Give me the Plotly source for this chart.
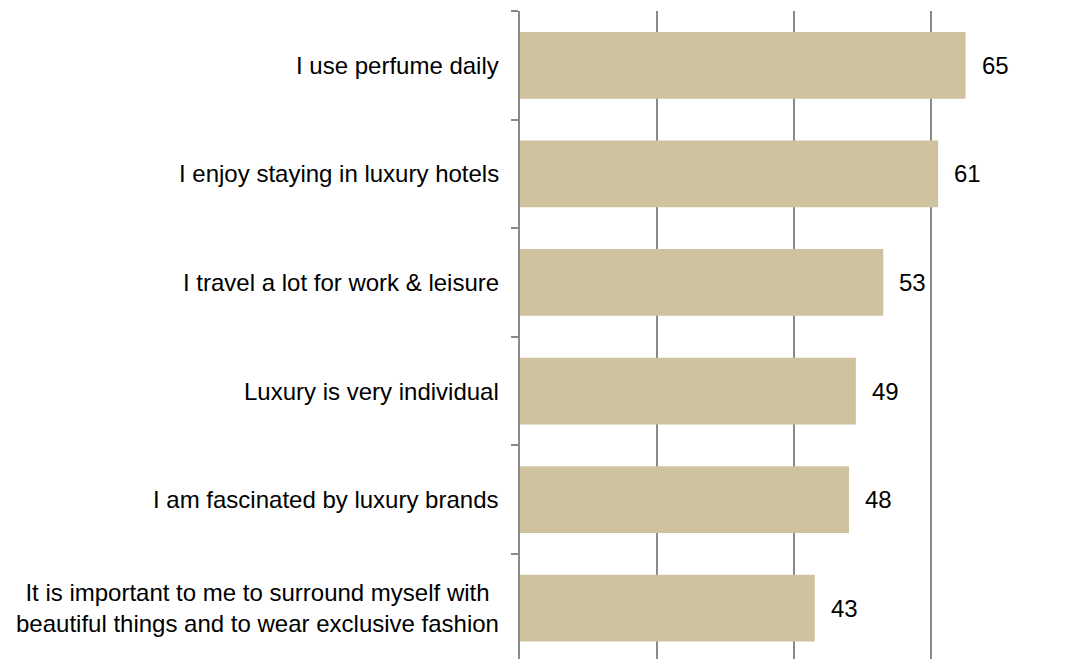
import plotly.graph_objects as go

# Survey statements and agreement scores (%)
statements = [
    "I use perfume daily",
    "I enjoy staying in luxury hotels",
    "I travel a lot for work & leisure",
    "Luxury is very individual",
    "I am fascinated by luxury brands",
    "It is important to me to surround myself with<br>beautiful things and to wear exclusive fashion",
]
scores = [65, 61, 53, 49, 48, 43]

BAR_COLOR = "#CFC29E"
LINE_COLOR = "#8A8A8A"
FONT = "Arial, Liberation Sans, sans-serif"

fig = go.Figure(
    go.Bar(
        x=scores,
        y=statements,
        orientation="h",
        marker=dict(color=BAR_COLOR, line=dict(width=0)),
        width=0.615,
        hoverinfo="skip",
    )
)

# Value labels just past each bar end
for i, v in enumerate(scores):
    fig.add_annotation(
        x=v, y=i, xref="x", yref="y",
        text=str(v), showarrow=False,
        xanchor="left", yanchor="middle", xshift=14,
        font=dict(family=FONT, size=24, color="#000000"),
    )

# Statement labels to the left of the axis, lines centred on each other
for i, s in enumerate(statements):
    fig.add_annotation(
        x=0, y=i, xref="paper", yref="y",
        text=s, showarrow=False,
        xanchor="right", yanchor="middle", xshift=-19,
        align="center",
        font=dict(family=FONT, size=24, color="#000000"),
    )

fig.update_layout(
    width=1066,
    height=659,
    margin=dict(l=520, r=0, t=11, b=0),
    paper_bgcolor="white",
    plot_bgcolor="white",
    showlegend=False,
    font=dict(family=FONT, size=24, color="#000000"),
)

fig.update_xaxes(
    range=[0, 79.65],
    tickvals=[0, 20, 40, 60, 80],
    showticklabels=False,
    showgrid=True,
    gridcolor=LINE_COLOR,
    gridwidth=1.5,
    zeroline=False,
    showline=False,
    ticks="",
)

fig.update_yaxes(
    type="category",
    categoryorder="array",
    categoryarray=statements,
    range=[5.468, -0.5],
    showticklabels=False,
    showgrid=False,
    zeroline=False,
    showline=True,
    linecolor=LINE_COLOR,
    linewidth=1.5,
    ticks="outside",
    tickson="boundaries",
    ticklen=7,
    tickcolor=LINE_COLOR,
    tickwidth=1.5,
)

fig.write_html("out.html")
